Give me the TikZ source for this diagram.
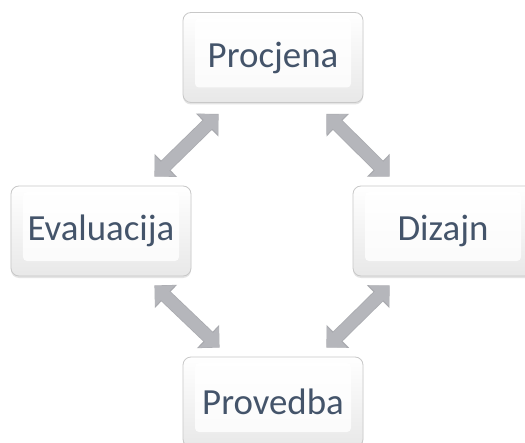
\documentclass[tikz,border=0pt]{standalone}
\usepackage{fontspec}
\setmainfont{Carlito}
\usetikzlibrary{calc,arrows.meta,shadows}
\definecolor{txt}{HTML}{44546A}
\definecolor{arr}{HTML}{B5B6BB}
\definecolor{arredge}{HTML}{A9AAAF}
\definecolor{boxedge}{HTML}{C8C8C8}
\tikzset{
  stage/.style={rounded corners=8bp, draw=boxedge, line width=0.8bp,
    top color=white, bottom color=black!9,
    minimum width=180bp, minimum height=90bp,
    font=\fontsize{37}{40}\selectfont, text=txt,
    drop shadow={shadow xshift=0bp, shadow yshift=-2bp, opacity=0.3, fill=black!35},
    path picture={
      \shade[rounded corners=4bp, top color=white, bottom color=black!2]
        ([xshift=12bp,yshift=15bp]path picture bounding box.south west)
        rectangle ([xshift=-12bp,yshift=-6bp]path picture bounding box.north east);
    }},
  arrowbase/.style={draw=arredge, line width=13.5bp,
    {Triangle[width=31bp,length=16bp]}-{Triangle[width=31bp,length=16bp]}},
  bigarrow/.style={draw=arr, line width=12bp, shorten >=0.8bp, shorten <=0.8bp,
    {Triangle[width=28bp,length=14bp]}-{Triangle[width=28bp,length=14bp]}}
}
\begin{document}
\begin{tikzpicture}[x=1bp,y=-1bp]
\clip (0,0) rectangle (525,443);
\fill[white] (0,0) rectangle (525,443);
\node[stage] (P) at (273,57.5) {Procjena};
\node[stage] (E) at (101,231) {Evaluacija};
\node[stage] (D) at (443,231) {Dizajn};
\node[stage] (V) at (273,402) {Provedba};
\coordinate (a1) at ($(E.north east)+(-37,-9)$);
\coordinate (a2) at ($(P.south west)+(36,11)$);
\coordinate (b1) at ($(P.south east)+(-37,11)$);
\coordinate (b2) at ($(D.north west)+(37,-9)$);
\coordinate (c1) at ($(E.south east)+(-37,9)$);
\coordinate (c2) at ($(V.north west)+(37,-9)$);
\coordinate (d1) at ($(D.south west)+(37,9)$);
\coordinate (d2) at ($(V.north east)+(-37,-9)$);
\foreach \s/\t in {a1/a2,b1/b2,c1/c2,d1/d2}{
  \draw[arrowbase] (\s) -- (\t);
  \draw[bigarrow] (\s) -- (\t);
}
\end{tikzpicture}
\end{document}
